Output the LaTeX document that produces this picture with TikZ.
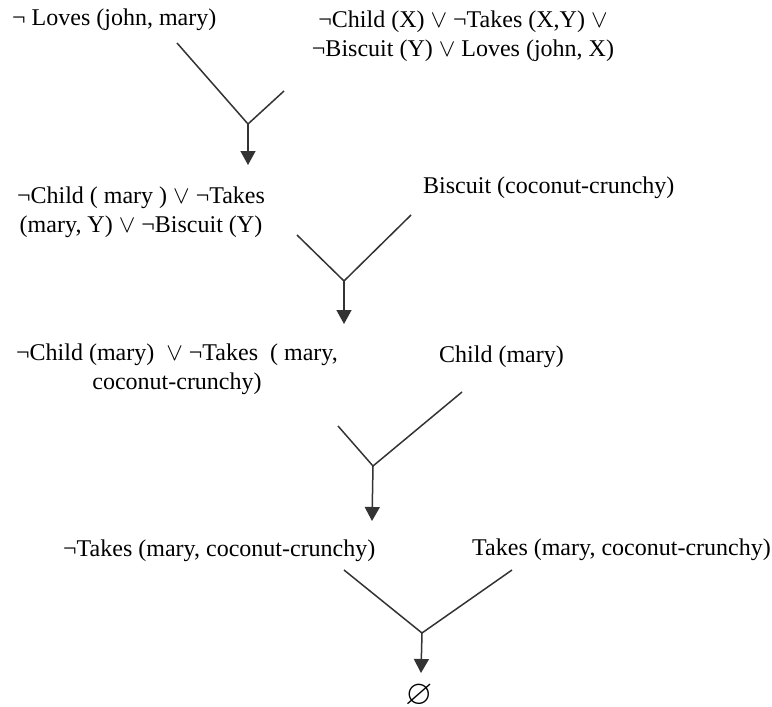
\documentclass[tikz,border=0pt]{standalone}
\usepackage{amssymb}
\usepackage{fontspec}
\setmainfont{Liberation Serif}
\usetikzlibrary{arrows.meta}
\newcommand{\orsym}{\ensuremath{\vee}}
\definecolor{linegray}{HTML}{333333}
\tikzset{
  clause/.style={font=\fontsize{24}{29}\selectfont, inner sep=0pt, align=center},
  arm/.style={draw=linegray, line width=1.5pt},
  resolvent/.style={draw=linegray, line width=1.5pt,
    -{Triangle[length=14pt,width=15pt]}},
}
\begin{document}
\begin{tikzpicture}[x=1pt,y=-1pt]
\useasboundingbox (0,0) rectangle (772,707);

% clauses (multi-line nodes are anchored at the baseline of their last line)
\node[clause, anchor=base west] (c1) at (12,25) {¬ Loves (john, mary)};
\node[clause, anchor=base] (c2) at (463,56)
  {¬Child (X) \orsym{} ¬Takes (X,Y) \orsym\\ ¬Biscuit (Y) \orsym{} Loves (john, X)};
\node[clause, anchor=base] (c3) at (141,232)
  {¬Child ( mary ) \orsym{} ¬Takes\\ (mary, Y) \orsym{} ¬Biscuit (Y)};
\node[clause, anchor=base west] (c4) at (423,193) {Biscuit (coconut-crunchy)};
\node[clause, anchor=base] (c5) at (177,389)
  {¬Child (mary)~ \orsym{} ¬Takes~ ( mary,\\ coconut-crunchy)};
\node[clause, anchor=base west] (c6) at (439,362) {Child (mary)};
\node[clause, anchor=base west] (c7) at (63,556) {¬Takes (mary, coconut-crunchy)};
\node[clause, anchor=base west] (c8) at (472,555) {Takes (mary, coconut-crunchy)};
\node[clause] (c9) at (419,696) {\scalebox{1.45}{$\varnothing$}};

% resolution steps: two arms meeting at a joint, then an arrow down
\coordinate (a1) at (177,43);  \coordinate (b1) at (284,91);
\coordinate (j1) at (248,124); \coordinate (t1) at (248,165);
\coordinate (a2) at (297,235); \coordinate (b2) at (411,215);
\coordinate (j2) at (344,281); \coordinate (t2) at (344,324);
\coordinate (a3) at (338,426); \coordinate (b3) at (462,392);
\coordinate (j3) at (373,466); \coordinate (t3) at (372,521);
\coordinate (a4) at (344,570); \coordinate (b4) at (512,570);
\coordinate (j4) at (422,633); \coordinate (t4) at (421,673);

\foreach \i in {1,2,3,4}{
  \draw[arm] (a\i) -- (j\i) -- (b\i);
  \draw[resolvent] (j\i) -- (t\i);
}
\end{tikzpicture}
\end{document}
